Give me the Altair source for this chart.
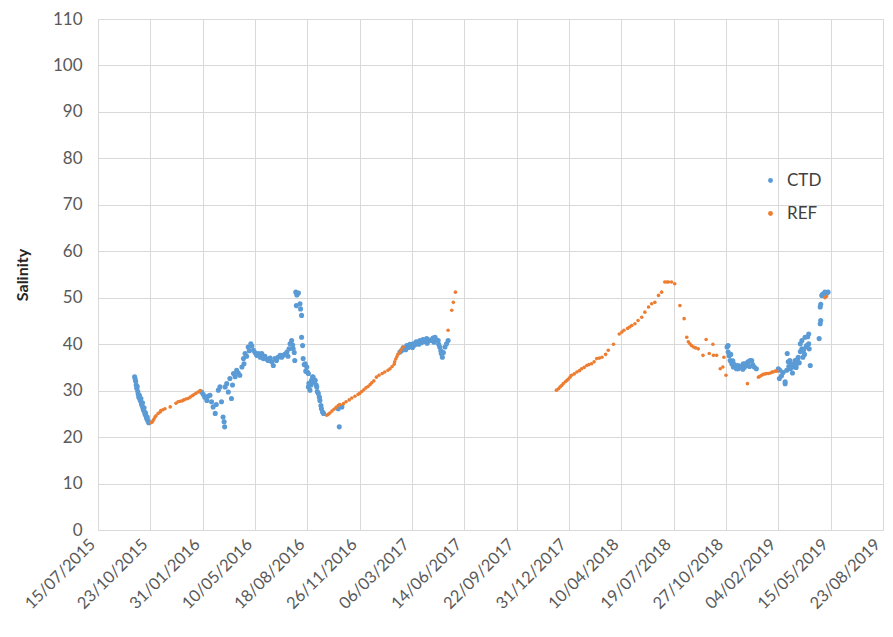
import altair as alt
import pandas as pd

FONT = "Lato"

start_date = "2015-07-15"
tick_dates = ["2015-07-15", "2015-10-23", "2016-01-31", "2016-05-10", "2016-08-18",
              "2016-11-26", "2017-03-06", "2017-06-14", "2017-09-22", "2017-12-31",
              "2018-04-10", "2018-07-19", "2018-10-27", "2019-02-04", "2019-05-15",
              "2019-08-23"]
y_ticks = [0, 10, 20, 30, 40, 50, 60, 70, 80, 90, 100, 110]

# CTD: days since start_date, salinity
ctd_day = [70, 71, 72, 73, 74, 75, 76, 77, 78, 79, 80, 81, 82, 83, 84, 85, 86, 87, 88, 89,
           90, 91, 92, 93, 94, 95, 96, 97,
           198, 201, 204, 208, 210, 214, 217, 220, 224, 226, 230, 233, 236, 239, 241, 242,
           243, 246, 249, 252, 255, 257, 259, 262, 265, 268, 271, 275, 278, 279, 281, 284,
           287, 289, 292, 294, 297, 300, 303, 307, 310, 313, 316, 319, 322, 325, 329, 332,
           335, 338, 341, 344, 348, 351, 354, 357, 361, 363, 365, 367, 370, 372, 373, 375,
           376, 378, 380, 383, 379, 386, 387, 389, 389, 391, 392, 394, 396, 397, 399, 400,
           402, 402, 403, 405, 407, 408, 410, 411, 413, 415, 417, 418, 419, 421, 423, 424,
           426, 427, 429, 431, 459, 461, 466,
           577, 580, 583, 586, 588, 590, 593, 596, 599, 601, 602, 605, 608, 612, 613, 615,
           618, 621, 625, 628, 629, 630, 634, 637, 640, 642, 644, 647, 650, 651, 653, 655,
           656, 658, 660, 663, 666, 669,
           1202, 1204, 1204, 1206, 1208, 1209, 1211, 1213, 1214, 1216, 1218, 1220, 1222,
           1223, 1226, 1227, 1230, 1232, 1233, 1235, 1237, 1240, 1241, 1242, 1245, 1246,
           1249, 1251, 1254, 1258,
           1300, 1302, 1303, 1306, 1309, 1313, 1313, 1316, 1317, 1319, 1320, 1322, 1323,
           1325, 1327, 1328, 1330, 1332, 1334, 1335, 1337, 1338, 1340, 1342, 1342, 1345,
           1345, 1347, 1348, 1350, 1351, 1353, 1354, 1356, 1358, 1358, 1359, 1361, 1378,
           1380, 1381, 1380, 1381, 1383, 1385, 1389, 1392, 1395]
ctd_sal = [33.0, 32.5, 32.0, 31.2, 30.5, 30.9, 29.8, 29.2, 28.6, 29.0, 28.2, 27.8, 28.3, 27.2,
           26.8, 27.4, 26.2, 25.8, 26.3, 25.4, 24.9, 25.2, 24.5, 24.0, 24.3, 23.6, 23.4, 23.1,
           29.7, 29.2, 28.6, 27.9, 28.8, 29.0, 27.6, 26.5, 25.1, 27.0, 30.1, 30.8, 27.6, 24.3,
           23.3, 22.2, 30.8, 31.5, 29.7, 32.6, 28.3, 31.2, 33.7, 33.0, 34.4, 33.8, 33.3, 35.1,
           36.9, 35.8, 38.0, 37.4, 39.4, 38.6, 40.1, 39.6, 38.7, 38.2, 37.6, 38.0, 37.2, 38.0,
           36.9, 37.4, 36.8, 36.5, 37.0, 36.2, 35.4, 36.9, 36.5, 37.2, 37.6, 37.2, 37.6, 37.8,
           38.3, 37.4, 39.0, 40.1, 40.8, 39.8, 39.0, 38.2, 36.5, 51.2, 50.6, 51.0, 48.3, 48.7,
           47.6, 46.2, 41.5, 39.7, 36.9, 35.6, 35.8, 34.2, 35.1, 34.0, 33.7, 30.8, 31.6, 30.1,
           31.2, 32.2, 33.0, 32.9, 31.8, 32.2, 31.2, 30.8, 29.8, 29.4, 28.6, 27.9, 26.8, 26.1,
           25.4, 25.1, 26.1, 22.2, 26.5,
           38.3, 38.6, 39.2, 39.0, 38.8, 39.7, 39.3, 40.0, 39.5, 39.3, 40.1, 39.8, 40.5, 40.2,
           40.0, 40.8, 40.3, 41.0, 40.6, 41.2, 40.2, 40.7, 40.9, 40.8, 41.3, 40.4, 41.5, 40.9,
           40.8, 40.0, 39.4, 38.6, 38.0, 37.2, 38.2, 39.4, 40.1, 40.8,
           39.4, 38.3, 39.7, 37.5, 36.5, 37.8, 35.8, 36.4, 35.1, 35.6, 35.1, 34.7, 35.4, 34.7,
           35.3, 35.1, 35.1, 34.6, 35.8, 35.0, 35.8, 35.4, 36.0, 36.2, 35.2, 36.5, 36.5, 35.6,
           35.1, 34.7,
           34.7, 32.6, 34.4, 33.2, 33.9, 31.5, 31.9, 34.4, 38.0, 36.2, 35.2, 36.5, 34.7, 35.8,
           33.8, 35.1, 35.6, 36.5, 35.0, 35.8, 36.8, 37.2, 36.0, 40.1, 38.4, 40.8, 39.0, 37.2,
           38.7, 37.8, 41.5, 39.4, 39.7, 41.6, 42.2, 40.1, 39.0, 35.4, 41.2, 44.4, 45.1, 48.0,
           48.6, 50.5, 50.8, 51.2, 50.9, 51.2]

# REF: days since start_date, salinity
ref_day = [101, 103, 105, 107, 109, 111, 115, 119, 120, 124, 128, 138, 149, 153, 157, 161,
           164, 168, 172, 176, 180, 183, 187, 191, 195,
           437, 440, 443, 447, 451, 455, 459, 462, 469, 474, 480, 485, 491, 497, 500, 504,
           508, 512, 516, 520, 523, 527, 532, 537, 543, 548, 554, 558, 562, 566, 567, 569,
           571, 573, 577, 579, 583,
           669, 676, 679, 683,
           876, 880, 883, 886, 889, 893, 896, 899, 902, 905, 910, 915, 920, 924, 929, 934,
           938, 943, 948, 953, 958, 963, 970, 975, 985, 996, 1001, 1005, 1012, 1016, 1020,
           1026, 1032, 1039, 1045, 1052, 1058, 1064, 1071, 1077, 1083, 1087, 1090, 1096,
           1102, 1112, 1120, 1125, 1128, 1131, 1134, 1138, 1142, 1147, 1156, 1162, 1168,
           1175, 1176, 1182, 1189, 1194, 1196, 1200, 1241, 1262, 1265, 1268, 1271, 1275,
           1278, 1281, 1285, 1288, 1290, 1294, 1297, 1389, 1392]
ref_sal = [23.1, 23.2, 23.5, 23.9, 24.3, 24.6, 25.1, 25.4, 25.7, 25.9, 26.1, 26.5, 27.3, 27.6,
           27.7, 27.8, 28.0, 28.2, 28.3, 28.6, 28.9, 29.1, 29.4, 29.7, 30.0,
           24.7, 24.9, 25.2, 25.6, 26.0, 26.4, 26.8, 27.0, 27.2, 27.6, 28.0, 28.4, 28.8, 29.2,
           29.4, 29.8, 30.2, 30.6, 30.9, 31.3, 31.7, 32.1, 32.9, 33.3, 33.7, 34.0, 34.4, 34.7,
           35.2, 35.7, 36.2, 36.8, 37.3, 37.8, 38.3, 38.8, 39.4,
           43.0, 47.3, 49.0, 51.2,
           30.1, 30.4, 30.8, 31.1, 31.5, 31.9, 32.2, 32.5, 32.9, 33.3, 33.6, 34.0, 34.3, 34.7,
           35.0, 35.4, 35.6, 35.8, 36.2, 36.9, 37.0, 37.2, 37.8, 38.7, 40.0, 42.2, 42.6, 43.0,
           43.4, 43.7, 44.0, 44.4, 45.1, 45.8, 46.9, 48.0, 48.7, 49.0, 50.5, 51.2, 53.4, 53.4,
           53.4, 53.4, 53.0, 48.3, 45.5, 41.5, 40.5, 40.1, 39.7, 39.4, 39.2, 39.0, 37.6, 41.0,
           38.0, 40.0, 37.6, 37.6, 34.7, 35.1, 37.2, 33.3, 31.5, 32.9, 33.1, 33.3, 33.5, 33.6,
           33.7, 33.7, 33.8, 34.0, 34.0, 34.2, 34.2, 50.0, 50.3]

start = pd.Timestamp(start_date)
ctd = pd.DataFrame({"date": start + pd.to_timedelta(ctd_day, unit="D"),
                    "sal": ctd_sal, "series": "CTD"})
ref = pd.DataFrame({"date": start + pd.to_timedelta(ref_day, unit="D"),
                    "sal": ref_sal, "series": "REF"})
df = pd.concat([ctd, ref], ignore_index=True)


def dt(s):
    y, m, d = (int(v) for v in s.split("-"))
    return alt.DateTime(year=y, month=m, date=d)


x = alt.X("date:T",
          scale=alt.Scale(domain=[dt(tick_dates[0]), dt(tick_dates[-1])], nice=False),
          axis=alt.Axis(values=[dt(t) for t in tick_dates], format="%d/%m/%Y",
                        labelAngle=-45, labelAlign="right", labelBaseline="bottom",
                        title=None, ticks=False, labelPadding=17,
                        labelFontSize=16.5, labelOverlap=False, labelBound=False,
                        labelFlush=False, domainColor="#D9D9D9", grid=True))
y = alt.Y("sal:Q", scale=alt.Scale(domain=[0, 110], nice=False),
          axis=alt.Axis(values=y_ticks, title="Salinity", ticks=False, domain=False,
                        labelPadding=16, labelFontSize=17, titleFontSize=16,
                        titleFontWeight="bold", titleColor="#262626", titlePadding=22))
color = alt.Color("series:N",
                  scale=alt.Scale(domain=["CTD", "REF"], range=["#5B9BD5", "#ED7D31"]),
                  legend=alt.Legend(title=None, orient="none", legendX=664, legendY=153,
                                    labelFontSize=17, labelFont=FONT, labelColor="#404040",
                                    symbolType="circle", symbolSize=24, rowPadding=15,
                                    padding=0, symbolStrokeWidth=0, labelOffset=8))

base = alt.Chart(df).encode(x=x, y=y, color=color)
ctd_layer = base.transform_filter("datum.series == 'CTD'").mark_circle(size=26, opacity=1)
ref_layer = base.transform_filter("datum.series == 'REF'").mark_circle(size=13, opacity=1)

chart = alt.layer(ctd_layer, ref_layer).properties(
    width=785, height=511,
    autosize=alt.AutoSizeParams(type="none"),
    padding={"left": 90, "top": 11, "right": 2, "bottom": 95},
).configure_view(stroke=None).configure_axis(
    gridColor="#D9D9D9", labelColor="#595959", labelFont=FONT, titleFont=FONT
)

chart.save("out.html", embed_options={"renderer": "svg", "actions": False})
